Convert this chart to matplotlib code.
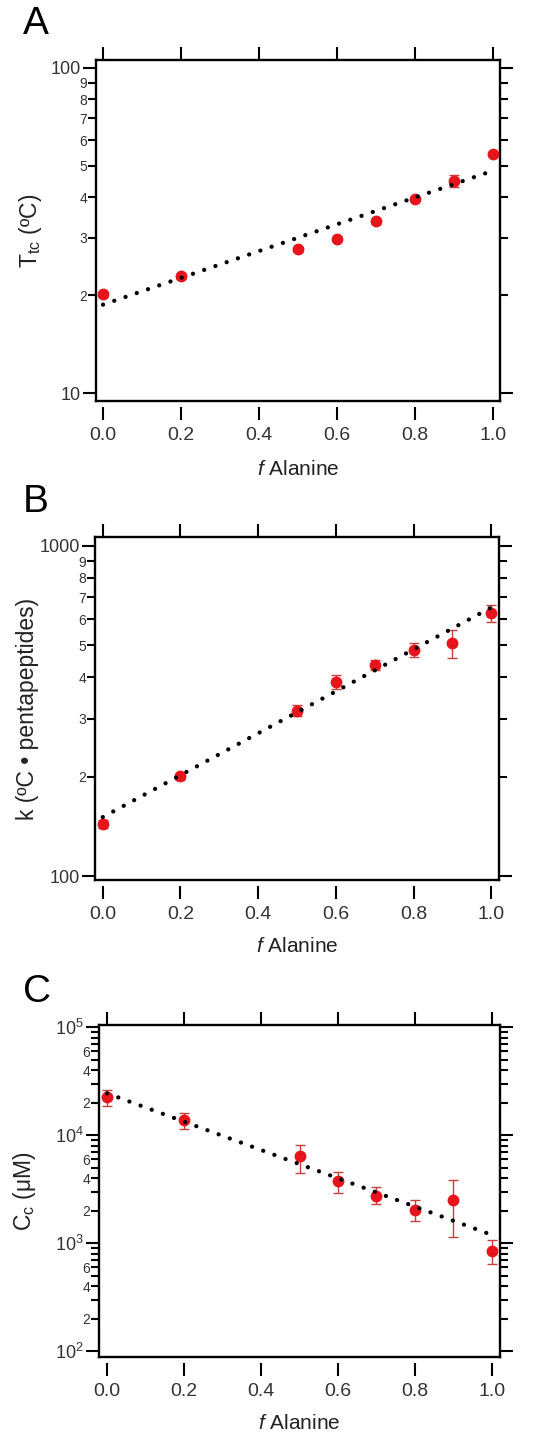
import numpy as np
import matplotlib
matplotlib.use("Agg")
import matplotlib.pyplot as plt
from matplotlib.ticker import FixedLocator, FuncFormatter

plt.rcParams['font.family'] = ['Liberation Sans', 'DejaVu Sans']
plt.rcParams['mathtext.fontset'] = 'custom'
plt.rcParams['mathtext.rm'] = 'Liberation Sans'
plt.rcParams['mathtext.it'] = 'Liberation Sans:italic'
plt.rcParams['mathtext.default'] = 'regular'

# data
f_ala = [0.0, 0.2, 0.5, 0.6, 0.7, 0.8, 0.9, 1.0]

Ttc = [20.1, 22.9, 27.7, 29.8, 33.8, 39.5, 44.9, 54.5]
Ttc_err = [0.3, 0.4, 0.5, 0.5, 0.6, 0.6, 2.0, 0.6]
Ttc_fit = (18.7, 48.3)   # fit at f=0 and f=1

k_val = [144, 201, 317, 388, 436, 485, 508, 626]
k_err = [4, 5, 12, 18, 15, 23, 50, 38]
k_fit = (151, 651)

Cc = [22500, 13800, 6340, 3760, 2720, 2020, 2500, 851]
Cc_lo = [18800, 11500, 4480, 2920, 2290, 1600, 1130, 641]
Cc_hi = [26000, 16100, 8090, 4550, 3310, 2500, 3800, 1074]
Cc_fit = (24400, 1190)

RED = '#e8141c'
ERR = '#c8403a'

fig = plt.figure(figsize=(5.33, 14.37), dpi=100)
W, H = 533, 1437


def make_ax(l, r, t, b):
    return fig.add_axes([l / W, 1 - b / H, (r - l) / W, (b - t) / H])


def style(ax, x0, x1):
    for s in ax.spines.values():
        s.set_linewidth(1.7)
    # bottom ticks sit a little below the frame
    ax.spines['bottom'].set_position(('outward', 4))
    ax.spines['bottom'].set_visible(False)
    ax.plot([0, 1], [0, 0], transform=ax.transAxes, color='k', lw=1.7,
            clip_on=False, solid_capstyle='projecting', zorder=5)
    ax.set_xlim(x0, x1)
    ax.set_xticks([0.0, 0.2, 0.4, 0.6, 0.8, 1.0])
    ax.set_xticklabels(['0.0', '0.2', '0.4', '0.6', '0.8', '1.0'])
    ax.xaxis.set_minor_locator(FixedLocator([]))
    ax.tick_params(axis='x', which='major', direction='out', length=9.5,
                   width=1.5, top=True, bottom=True, labelsize=14, pad=5,
                   colors='k', labelcolor='#333333')
    ax.tick_params(axis='y', which='major', direction='out', length=9.5,
                   width=1.5, left=True, right=True, labelsize=13, pad=1.5,
                   labelcolor='#333333')
    ax.tick_params(axis='y', which='minor', direction='out', length=6,
                   width=1.5, left=True, right=True, labelsize=10, pad=0.5,
                   labelcolor='#333333')


def fit_line(ax, ends):
    xs = np.linspace(0, 1, 50)
    ys = np.geomspace(ends[0], ends[1], 50)
    ax.plot(xs, ys, color='k', lw=3.1, ls=(0, (0.01, 2.75)),
            dash_capstyle='round', zorder=4)


def xlabel(ax, y):
    ax.text(0.5, y, r'$\it{f}$ Alanine', transform=ax.transAxes,
            ha='center', va='center', fontsize=15, color='#222222')


def ylabel(ax, x, txt):
    ax.text(x, 0.5, txt, transform=ax.transAxes, rotation=90,
            ha='center', va='center', fontsize=16.5, color='#222222')


digit_fmt = FuncFormatter(lambda v, p: '%d' % round(v / 10 ** np.floor(np.log10(v) + 1e-9)))

# ---- A
axA = make_ax(96, 500, 60, 401)
axA.set_yscale('log')
axA.set_ylim(9.45, 105.8)
style(axA, -0.018, 1.018)
axA.yaxis.set_major_locator(FixedLocator([10, 100]))
axA.yaxis.set_major_formatter(FuncFormatter(lambda v, p: '%d' % v))
axA.yaxis.set_minor_locator(FixedLocator([20, 30, 40, 50, 60, 70, 80, 90]))
axA.yaxis.set_minor_formatter(digit_fmt)
axA.errorbar(f_ala, Ttc, yerr=Ttc_err, fmt='o', color=RED, ms=7.5,
             ecolor=ERR, elinewidth=1, capsize=3.5, capthick=1, zorder=3)
fit_line(axA, Ttc_fit)
ylabel(axA, -0.163, r'T$_{tc}$ (ºC)')
xlabel(axA, -0.202)
fig.text(23 / W, 1 - 24 / H, 'A', fontsize=28, ha='left', va='center')

# ---- B
axB = make_ax(95, 499, 537, 880)
axB.set_yscale('log')
axB.set_ylim(97.4, 1064)
style(axB, -0.02, 1.02)
axB.yaxis.set_major_locator(FixedLocator([100, 1000]))
axB.yaxis.set_major_formatter(FuncFormatter(lambda v, p: '%d' % v))
axB.yaxis.set_minor_locator(FixedLocator([200, 300, 400, 500, 600, 700, 800, 900]))
axB.yaxis.set_minor_formatter(digit_fmt)
axB.errorbar(f_ala, k_val, yerr=k_err, fmt='o', color=RED, ms=7.5,
             ecolor=ERR, elinewidth=1, capsize=3.5, capthick=1, zorder=3)
fit_line(axB, k_fit)
ylabel(axB, -0.168, 'k (ºC • pentapeptides)')
xlabel(axB, -0.195)
fig.text(23 / W, 1 - 502 / H, 'B', fontsize=28, ha='left', va='center')

# ---- C
axC = make_ax(99, 500, 1025, 1357)
axC.set_yscale('log')
axC.set_ylim(10 ** 1.945, 10 ** 5.02)
style(axC, -0.021, 1.021)
axC.yaxis.set_major_locator(FixedLocator([1e2, 1e3, 1e4, 1e5]))
axC.yaxis.set_major_formatter(FuncFormatter(
    lambda v, p: r'$10^{%d}$' % round(np.log10(v))))
minors = [m * 10 ** d for d in (2, 3, 4) for m in range(2, 10)]
axC.yaxis.set_minor_locator(FixedLocator(minors))
axC.yaxis.set_minor_formatter(FuncFormatter(
    lambda v, p: (lambda m: '%d' % m if m in (2, 4, 6) else '')(
        round(v / 10 ** np.floor(np.log10(v) + 1e-9)))))
lo = np.array(Cc) - np.array(Cc_lo)
hi = np.array(Cc_hi) - np.array(Cc)
axC.errorbar(f_ala, Cc, yerr=[lo, hi], fmt='o', color=RED, ms=7.5,
             ecolor=ERR, elinewidth=1, capsize=3.5, capthick=1, zorder=3)
fit_line(axC, Cc_fit)
ylabel(axC, -0.185, r'C$_c$ (μM)')
xlabel(axC, -0.2)
fig.text(23 / W, 1 - 992 / H, 'C', fontsize=28, ha='left', va='center')

fig.savefig('out.png', dpi=100)
